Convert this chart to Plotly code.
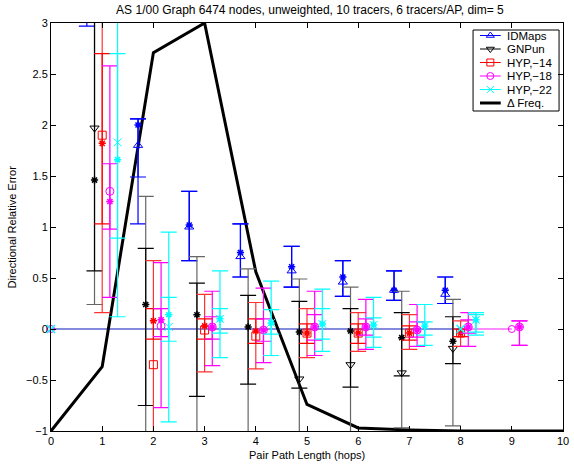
import plotly.graph_objects as go

# ---------------- data ----------------
groups = [1, 2, 3, 4, 5, 6, 7, 8]
groups18 = [1, 2, 3, 4, 5, 6, 7, 8, 9]

freq_x = [0, 1, 2, 3, 4, 5, 6, 7, 8, 9, 10]
freq_y = [-1, -0.37, 2.71, 3.0, 0.56, -0.74, -0.97, -0.99, -1.0, -1.0, -1.0]

# hollow-marker values with their range, star values with their range
idm_m = [3.4, 1.80, 1.00, 0.71, 0.57, 0.46, 0.38, 0.34]
idm_lo = [2.97, 1.03, 0.67, 0.51, 0.41, 0.32, 0.28, 0.25]
idm_hi = [4.0, 2.06, 1.35, 1.03, 0.81, 0.67, 0.57, 0.51]
idm_s = [3.5, 2.00, 1.02, 0.75, 0.61, 0.51, 0.38, 0.38]
idm_slo = [3.2, 1.49, 0.67, 0.51, 0.41, 0.32, 0.28, 0.25]
idm_shi = [3.8, 2.06, 1.35, 1.03, 0.81, 0.67, 0.57, 0.51]

gnp_m = [1.97, -1.05, -1.05, -1.05, -0.49, -0.35, -0.43, -0.19]
gnp_lo = [0.24, -1.3, -1.3, -1.3, -1.3, -1.3, -0.97, -0.95]
gnp_hi = [3.5, 1.30, 0.71, 0.59, 0.49, 0.41, 0.37, 0.29]
gnp_s = [1.46, 0.24, 0.14, 0.02, -0.03, -0.02, -0.085, -0.12]
gnp_slo = [0.57, -0.75, -0.66, -0.54, -0.58, -0.57, -0.46, -0.34]
gnp_shi = [3.5, 0.79, 0.45, 0.33, 0.27, 0.20, 0.16, 0.12]

h14_m = [1.90, -0.35, -0.01, -0.07, -0.04, -0.04, -0.04, -0.04]
h14_lo = [0.16, -1.1, -0.42, -0.39, -0.28, -0.22, -0.20, -0.17]
h14_hi = [3.5, 0.67, 0.34, 0.26, 0.20, 0.16, 0.14, 0.08]
h14_s = [1.82, 0.08, 0.03, -0.02, -0.04, -0.04, -0.04, -0.04]
h14_slo = [1.03, -0.10, -0.10, -0.14, -0.14, -0.14, -0.11, -0.075]
h14_shi = [2.70, 0.20, 0.10, 0.10, 0.05, 0.05, 0.03, 0.0]

h18_m = [1.35, 0.03, 0.02, -0.01, 0.02, 0.02, -0.01, 0.02, 0.02]
h18_lo = [0.31, -0.77, -0.36, -0.33, -0.26, -0.20, -0.17, -0.17, -0.16]
h18_hi = [2.58, 0.65, 0.37, 0.40, 0.37, 0.29, 0.24, 0.16, 0.08]
h18_s = [1.25, 0.09, 0.02, -0.01, 0.02, 0.02, -0.01, 0.02, 0.02]
h18_slo = [0.98, -0.075, -0.10, -0.12, -0.11, -0.06, -0.08, -0.04, -0.16]
h18_shi = [1.62, 0.20, 0.12, 0.10, 0.14, 0.10, 0.07, 0.09, 0.08]

h22_m = [1.83, 0.02, 0.10, 0.06, 0.05, 0.04, 0.03, 0.09]
h22_lo = [0.12, -0.91, -0.28, -0.26, -0.22, -0.18, -0.16, -0.06]
h22_hi = [3.5, 0.95, 0.57, 0.47, 0.39, 0.31, 0.24, 0.16]
h22_s = [1.66, 0.14, 0.10, 0.06, 0.05, 0.04, 0.03, 0.09]
h22_slo = [0.89, -0.12, -0.04, -0.05, -0.10, -0.08, -0.06, -0.03]
h22_shi = [2.70, 0.31, 0.20, 0.19, 0.20, 0.11, 0.07, 0.14]

series = [
    dict(name="IDMaps", g=groups, off=-0.3, color="#0000FF", sym="triangle-up-open",
         m=idm_m, lo=idm_lo, hi=idm_hi, s=idm_s, slo=idm_slo, shi=idm_shi, bar="#0000FF"),
    dict(name="GNPun", g=groups, off=-0.15, color="#000000", sym="triangle-down-open",
         m=gnp_m, lo=gnp_lo, hi=gnp_hi, s=gnp_s, slo=gnp_slo, shi=gnp_shi, bar="#666666"),
    dict(name="HYP,\u221214", g=groups, off=0.0, color="#FF0000", sym="square-open",
         m=h14_m, lo=h14_lo, hi=h14_hi, s=h14_s, slo=h14_slo, shi=h14_shi, bar="#FF3333"),
    dict(name="HYP,\u221218", g=groups18, off=0.15, color="#FF00FF", sym="circle-open",
         m=h18_m, lo=h18_lo, hi=h18_hi, s=h18_s, slo=h18_slo, shi=h18_shi, bar="#FF00FF"),
    dict(name="HYP,\u221222", g=groups, off=0.3, color="#00FFFF", sym="x-thin-open",
         m=h22_m, lo=h22_lo, hi=h22_hi, s=h22_s, slo=h22_slo, shi=h22_shi, bar="#00FFFF"),
]
freq_name = "\u0394 Freq."

zero_color = "#5B8AD0"
FONT = "Liberation Sans, Arial, Helvetica, sans-serif"

# plot area in pixels
L, R, T, B = 51, 569, 23, 431

fig = go.Figure()

# zero lines
fig.add_trace(go.Scatter(x=[0, 9], y=[0, 0], mode="lines", line=dict(color="#FF66FF", width=1.5),
                         showlegend=False, hoverinfo="skip"))
fig.add_trace(go.Scatter(x=[0, 8], y=[0, 0], mode="lines", line=dict(color=zero_color, width=1.5),
                         showlegend=False, hoverinfo="skip"))

# Δ Freq
fig.add_trace(go.Scatter(x=freq_x, y=freq_y, mode="lines", line=dict(color="black", width=3),
                         showlegend=False, hoverinfo="skip"))

for s in series:
    xs = [g + s["off"] for g in s["g"]]
    fig.add_trace(go.Scatter(
        x=xs, y=s["m"], mode="markers",
        marker=dict(symbol=s["sym"], size=8, color=s["color"], line=dict(width=1, color=s["color"])),
        error_y=dict(type="data", symmetric=False,
                     array=[h - m for h, m in zip(s["hi"], s["m"])],
                     arrayminus=[m - l for l, m in zip(s["lo"], s["m"])],
                     color=s["bar"], thickness=1.2, width=8),
        showlegend=False, cliponaxis=True))
    fig.add_trace(go.Scatter(
        x=xs, y=s["s"], mode="markers",
        marker=dict(symbol="asterisk-open", size=6, color=s["color"], line=dict(width=1.5, color=s["color"])),
        error_y=dict(type="data", symmetric=False,
                     array=[h - m for h, m in zip(s["shi"], s["s"])],
                     arrayminus=[m - l for l, m in zip(s["slo"], s["s"])],
                     color=s["color"], thickness=1.2, width=8),
        showlegend=False, cliponaxis=True))

# zero-line end markers
fig.add_trace(go.Scatter(x=[0, 9], y=[0, 0], mode="markers",
                         marker=dict(symbol="circle-open", size=7, color="#FF00FF", line=dict(width=1)),
                         showlegend=False, cliponaxis=False))
fig.add_trace(go.Scatter(x=[0, 8], y=[0, 0], mode="markers",
                         marker=dict(symbol="x-thin-open", size=8, color="#00FFFF", line=dict(width=1.5)),
                         showlegend=False, cliponaxis=False))

# ---------- hand-drawn legend (pixel coordinates on an overlay axis) ----------
box = (478, 30, 565, 111)
row_y = [35.5, 49, 62.5, 76, 89.5, 103]
ann = []
for i, s in enumerate(series):
    y = row_y[i]
    fig.add_trace(go.Scatter(x=[485, 506], y=[y, y], mode="lines", xaxis="x2", yaxis="y2",
                             line=dict(color=s["color"], width=1), showlegend=False, hoverinfo="skip"))
    fig.add_trace(go.Scatter(x=[495.5], y=[y], mode="markers", xaxis="x2", yaxis="y2",
                             marker=dict(symbol=s["sym"], size=7, color=s["color"],
                                         line=dict(width=1, color=s["color"])),
                             showlegend=False, hoverinfo="skip"))
    ann.append(dict(text=s["name"], x=510, y=y, xref="x2", yref="y2", xanchor="left",
                    yanchor="middle", showarrow=False, font=dict(family=FONT, size=11.5, color="black")))
fig.add_trace(go.Scatter(x=[485, 506], y=[row_y[5], row_y[5]], mode="lines", xaxis="x2", yaxis="y2",
                         line=dict(color="black", width=3), showlegend=False, hoverinfo="skip"))
ann.append(dict(text=freq_name, x=510, y=row_y[5], xref="x2", yref="y2", xanchor="left",
                yanchor="middle", showarrow=False, font=dict(family=FONT, size=11.5, color="black")))

axis_common = dict(showgrid=False, zeroline=False, showline=True, linecolor="black", linewidth=1,
                   mirror="allticks", ticks="inside", ticklen=5, tickcolor="black",
                   ticklabeloverflow="allow",
                   tickfont=dict(family=FONT, size=11, color="black"))

ann += [
    dict(text="Pair Path Length (hops)", x=0.5, y=-(455 - B) / (B - T), xref="paper", yref="paper",
         yanchor="middle", xanchor="center", showarrow=False, font=dict(family=FONT, size=11)),
    dict(text="Directional Relative Error", x=-(L - 12) / (R - L), y=0.5, xref="paper", yref="paper",
         textangle=-90, xanchor="center", yanchor="middle", showarrow=False,
         font=dict(family=FONT, size=11)),
]

fig.update_layout(
    width=574, height=466,
    margin=dict(l=L, r=574 - R, t=T, b=466 - B),
    paper_bgcolor="white", plot_bgcolor="white",
    font=dict(family=FONT, size=11, color="black"),
    showlegend=False,
    title=dict(text="AS 1/00 Graph 6474 nodes, unweighted, 10 tracers, 6 tracers/AP, dim= 5",
               x=0.54, xanchor="center", y=1 - 10 / 466, yanchor="middle", yref="container",
               font=dict(family=FONT, size=12, color="black")),
    xaxis=dict(range=[0, 10], dtick=1, tick0=0, **axis_common),
    yaxis=dict(range=[-1, 3], dtick=0.5, tick0=-1, **axis_common),
    xaxis2=dict(range=[L, R], overlaying="x", visible=False, fixedrange=True),
    yaxis2=dict(range=[B, T], overlaying="y", visible=False, fixedrange=True),
    shapes=[dict(type="rect", xref="x2", yref="y2", x0=box[0], y0=box[1], x1=box[2], y1=box[3],
                 fillcolor="white", line=dict(color="black", width=1), layer="below")],
    annotations=ann,
)

fig.write_html("out.html")
